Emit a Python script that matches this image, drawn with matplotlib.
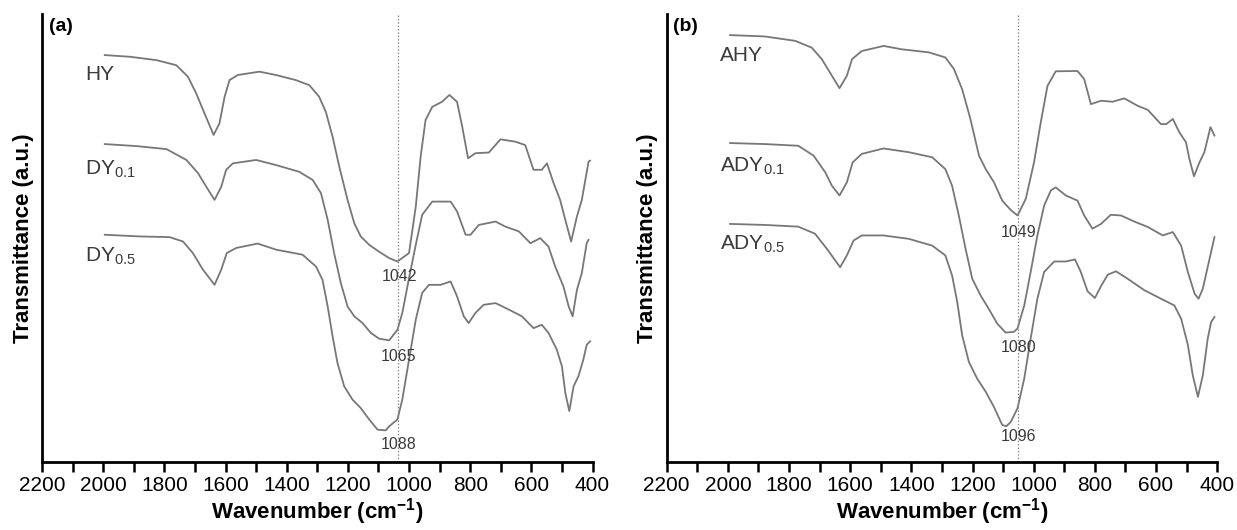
import numpy as np
import matplotlib
matplotlib.use("Agg")
import matplotlib.pyplot as plt
from matplotlib.ticker import MultipleLocator

plt.rcParams['font.family'] = ['Liberation Sans', 'DejaVu Sans']
plt.rcParams['mathtext.fontset'] = 'custom'
plt.rcParams['mathtext.rm'] = 'Liberation Sans'
plt.rcParams['mathtext.bf'] = 'Liberation Sans:bold'

# ---- panel (a) spectra: wavenumber (cm-1) and transmittance (a.u.) ----
hy_wn = [1995, 1913, 1826, 1761, 1723, 1696, 1669, 1639, 1620, 1603, 1587, 1560, 1489,
         1435, 1370, 1326, 1294, 1272, 1250, 1228, 1201, 1179, 1158, 1130, 1098, 1065,
         1038, 1000, 978, 962, 946, 924, 892, 868, 843, 826, 807, 783, 739, 701, 652,
         620, 593, 566, 549, 527, 506, 489, 470, 451, 435, 413, 408]
hy_t = [120.3, 119.8, 118.8, 117.3, 113.9, 109.0, 103.1, 96.7, 100.1, 108.0, 112.9, 114.4, 115.4,
        114.4, 112.9, 111.4, 108.0, 103.5, 96.2, 87.3, 77.5, 70.6, 66.7, 64.2, 62.2, 60.3,
        59.3, 61.8, 75.5, 90.3, 101.1, 105.0, 106.5, 108.5, 106.5, 99.1, 89.8, 91.3, 91.5, 95.4, 94.7,
        93.7, 86.4, 86.4, 88.3, 82.4, 77.5, 71.6, 65.2, 72.6, 77.5, 88.8, 89.1]

dy01_wn = [1995, 1891, 1793, 1728, 1690, 1663, 1636, 1614, 1598, 1576, 1500, 1435, 1359,
           1315, 1288, 1266, 1245, 1223, 1201, 1179, 1152, 1125, 1098, 1065, 1038, 1022,
           1000, 978, 957, 924, 864, 843, 815, 799, 772, 717, 685, 641, 603, 571, 544,
           522, 495, 478, 465, 451, 435, 419, 413]
dy01_t = [94.0, 93.4, 92.5, 89.3, 85.4, 81.4, 77.5, 81.4, 86.4, 88.3, 89.3, 87.8, 85.8,
          83.4, 79.5, 71.6, 61.8, 52.9, 46.0, 43.1, 41.1, 38.2, 36.5, 36.0, 39.1, 44.1,
          54.4, 64.2, 73.1, 77.0, 77.0, 74.1, 67.2, 67.2, 70.1, 71.1, 69.6, 68.2, 64.7, 66.2, 63.7,
          57.8, 51.9, 46.0, 43.1, 50.9, 55.9, 64.7, 65.7]

dy05_wn = [1995, 1880, 1783, 1739, 1707, 1674, 1636, 1614, 1596, 1565, 1495, 1435, 1348,
           1304, 1283, 1266, 1250, 1234, 1212, 1185, 1158, 1130, 1103, 1076, 1065, 1038,
           1022, 1000, 978, 957, 935, 897, 864, 843, 821, 805, 783, 756, 717, 674, 631,
           593, 566, 544, 517, 500, 489, 476, 462, 446, 430, 419, 408]
dy05_t = [67.2, 66.7, 66.5, 65.2, 61.8, 56.9, 52.4, 56.9, 61.8, 63.3, 64.6, 62.8, 61.3,
          57.8, 53.9, 46.0, 37.2, 29.3, 22.4, 18.5, 16.0, 12.6, 9.6, 9.4, 10.6, 12.6,
          18.5, 30.3, 42.1, 50.0, 52.4, 52.4, 53.4, 49.0, 43.1, 41.1, 44.1, 46.5, 47.0, 45.1, 43.1,
          39.6, 40.6, 38.2, 33.3, 28.3, 20.5, 15.1, 22.4, 25.4, 30.3, 34.7, 35.7]

# ---- panel (b) spectra ----
ahy_wn = [1993, 1879, 1780, 1726, 1693, 1660, 1635, 1611, 1594, 1562, 1491, 1431, 1343,
          1289, 1261, 1234, 1207, 1179, 1157, 1130, 1103, 1075, 1053, 1026, 999, 977,
          955, 928, 857, 835, 813, 780, 742, 704, 660, 627, 584, 567, 545, 524, 502,
          491, 476, 458, 442, 422, 409]
ahy_t = [126.2, 125.8, 124.5, 122.5, 119.1, 114.2, 110.5, 114.2, 119.1, 121.5, 123.0, 122.0, 121.1,
         119.6, 116.2, 110.2, 101.4, 90.6, 86.6, 82.7, 77.3, 74.5, 72.9, 77.8, 88.6, 100.4,
         111.2, 115.5, 115.6, 113.2, 105.8, 106.8, 106.5, 107.5, 105.3, 104.1, 99.9, 99.9, 101.4,
         97.5, 94.5, 89.6, 84.5, 88.6, 91.6, 99.0, 96.5]

ady01_wn = [1993, 1879, 1770, 1720, 1682, 1660, 1635, 1611, 1592, 1562, 1491, 1409, 1332,
            1289, 1267, 1245, 1223, 1201, 1174, 1147, 1119, 1092, 1065, 1053, 1031, 1010,
            988, 966, 944, 928, 895, 857, 835, 808, 780, 748, 715, 671, 627, 578, 545,
            518, 496, 474, 461, 447, 425, 409]
ady01_t = [94.3, 94.0, 93.5, 90.6, 85.7, 81.7, 78.8, 82.7, 88.6, 91.1, 92.7, 91.6, 90.1,
           86.6, 81.7, 72.9, 63.1, 54.2, 49.3, 45.3, 40.9, 38.3, 38.5, 39.5, 46.3, 56.2,
           67.0, 75.8, 80.3, 81.2, 78.8, 77.3, 72.9, 69.0, 70.4, 73.1, 72.9, 71.1, 69.5, 67.0, 68.0,
           64.0, 56.2, 49.8, 48.3, 51.3, 60.1, 66.5]

ady05_wn = [1993, 1879, 1770, 1715, 1676, 1633, 1611, 1589, 1562, 1491, 1409, 1332, 1289,
            1267, 1250, 1234, 1212, 1185, 1157, 1130, 1103, 1090, 1075, 1053, 1031, 1010,
            988, 966, 933, 895, 865, 846, 824, 800, 780, 758, 731, 693, 638, 584, 540,
            518, 496, 480, 463, 447, 431, 420, 409]
ady05_t = [70.4, 70.1, 69.6, 67.5, 63.0, 57.6, 61.1, 65.5, 67.0, 67.0, 66.0, 64.0, 61.1,
           55.2, 47.3, 37.5, 29.6, 24.7, 20.8, 16.3, 11.0, 10.6, 11.9, 15.9, 24.7, 36.5,
           48.3, 56.2, 59.3, 59.3, 59.9, 56.2, 50.5, 48.5, 52.0, 55.4, 56.4, 54.2, 50.8, 48.3, 46.3,
           42.4, 34.7, 25.7, 19.3, 25.7, 36.5, 41.4, 42.9]

panels = [
    {
        'tag': '(a)',
        'left': 0.034,
        'curves': [(hy_wn, hy_t), (dy01_wn, dy01_t), (dy05_wn, dy05_t)],
        'names': ['HY', r'DY$_{0.1}$', r'DY$_{0.5}$'],
        'name_pos': [(2060, 114.5), (2060, 86.5), (2060, 61.0)],
        'peaks': ['1042', '1065', '1088'],
        'peak_pos': [(1030, 54.9), (1034, 31.3), (1034, 5.2)],
        'vline': 1036,
    },
    {
        'tag': '(b)',
        'left': 0.539,
        'curves': [(ahy_wn, ahy_t), (ady01_wn, ady01_t), (ady05_wn, ady05_t)],
        'names': ['AHY', r'ADY$_{0.1}$', r'ADY$_{0.5}$'],
        'name_pos': [(2026, 120.1), (2026, 87.6), (2026, 64.5)],
        'peaks': ['1049', '1080', '1096'],
        'peak_pos': [(1051, 68.0), (1051, 34.0), (1051, 7.5)],
        'vline': 1053,
    },
]

line_col = '#777777'
text_col = '#3a3a3a'

fig = plt.figure(figsize=(12.37, 5.30), dpi=100)

for p in panels:
    ax = fig.add_axes([p['left'], 0.128, 0.445, 0.846])
    for wn, t in p['curves']:
        ax.plot(wn, t, color=line_col, linewidth=1.3)
    ax.axvline(p['vline'], color='#8a8a8a', linestyle=(0, (1.2, 1.5)), linewidth=0.9)

    for name, (x, y) in zip(p['names'], p['name_pos']):
        ax.text(x, y, name, fontsize=15, color=text_col, ha='left', va='center')
    for lab, (x, y) in zip(p['peaks'], p['peak_pos']):
        ax.text(x, y, lab, fontsize=11.5, color=text_col, ha='center', va='center')

    ax.text(0.012, 0.99, p['tag'], transform=ax.transAxes, fontsize=14,
            fontweight='bold', ha='left', va='top')

    ax.set_xlim(2200, 400)
    ax.set_ylim(0, 132.5)
    ax.xaxis.set_major_locator(MultipleLocator(200))
    ax.xaxis.set_minor_locator(MultipleLocator(100))
    ax.tick_params(axis='x', which='both', direction='out', length=7, width=1.8,
                   labelsize=15, pad=3)
    ax.set_yticks([])
    for s in ['top', 'right']:
        ax.spines[s].set_visible(False)
    for s in ['left', 'bottom']:
        ax.spines[s].set_linewidth(2)

    ax.set_xlabel(r'Wavenumber (cm$^{\mathbf{-1}}$)', fontsize=16, fontweight='bold',
                  labelpad=1)
    ax.set_ylabel('Transmittance (a.u.)', fontsize=16, fontweight='bold', labelpad=6)

fig.savefig('out.png', dpi=100)
